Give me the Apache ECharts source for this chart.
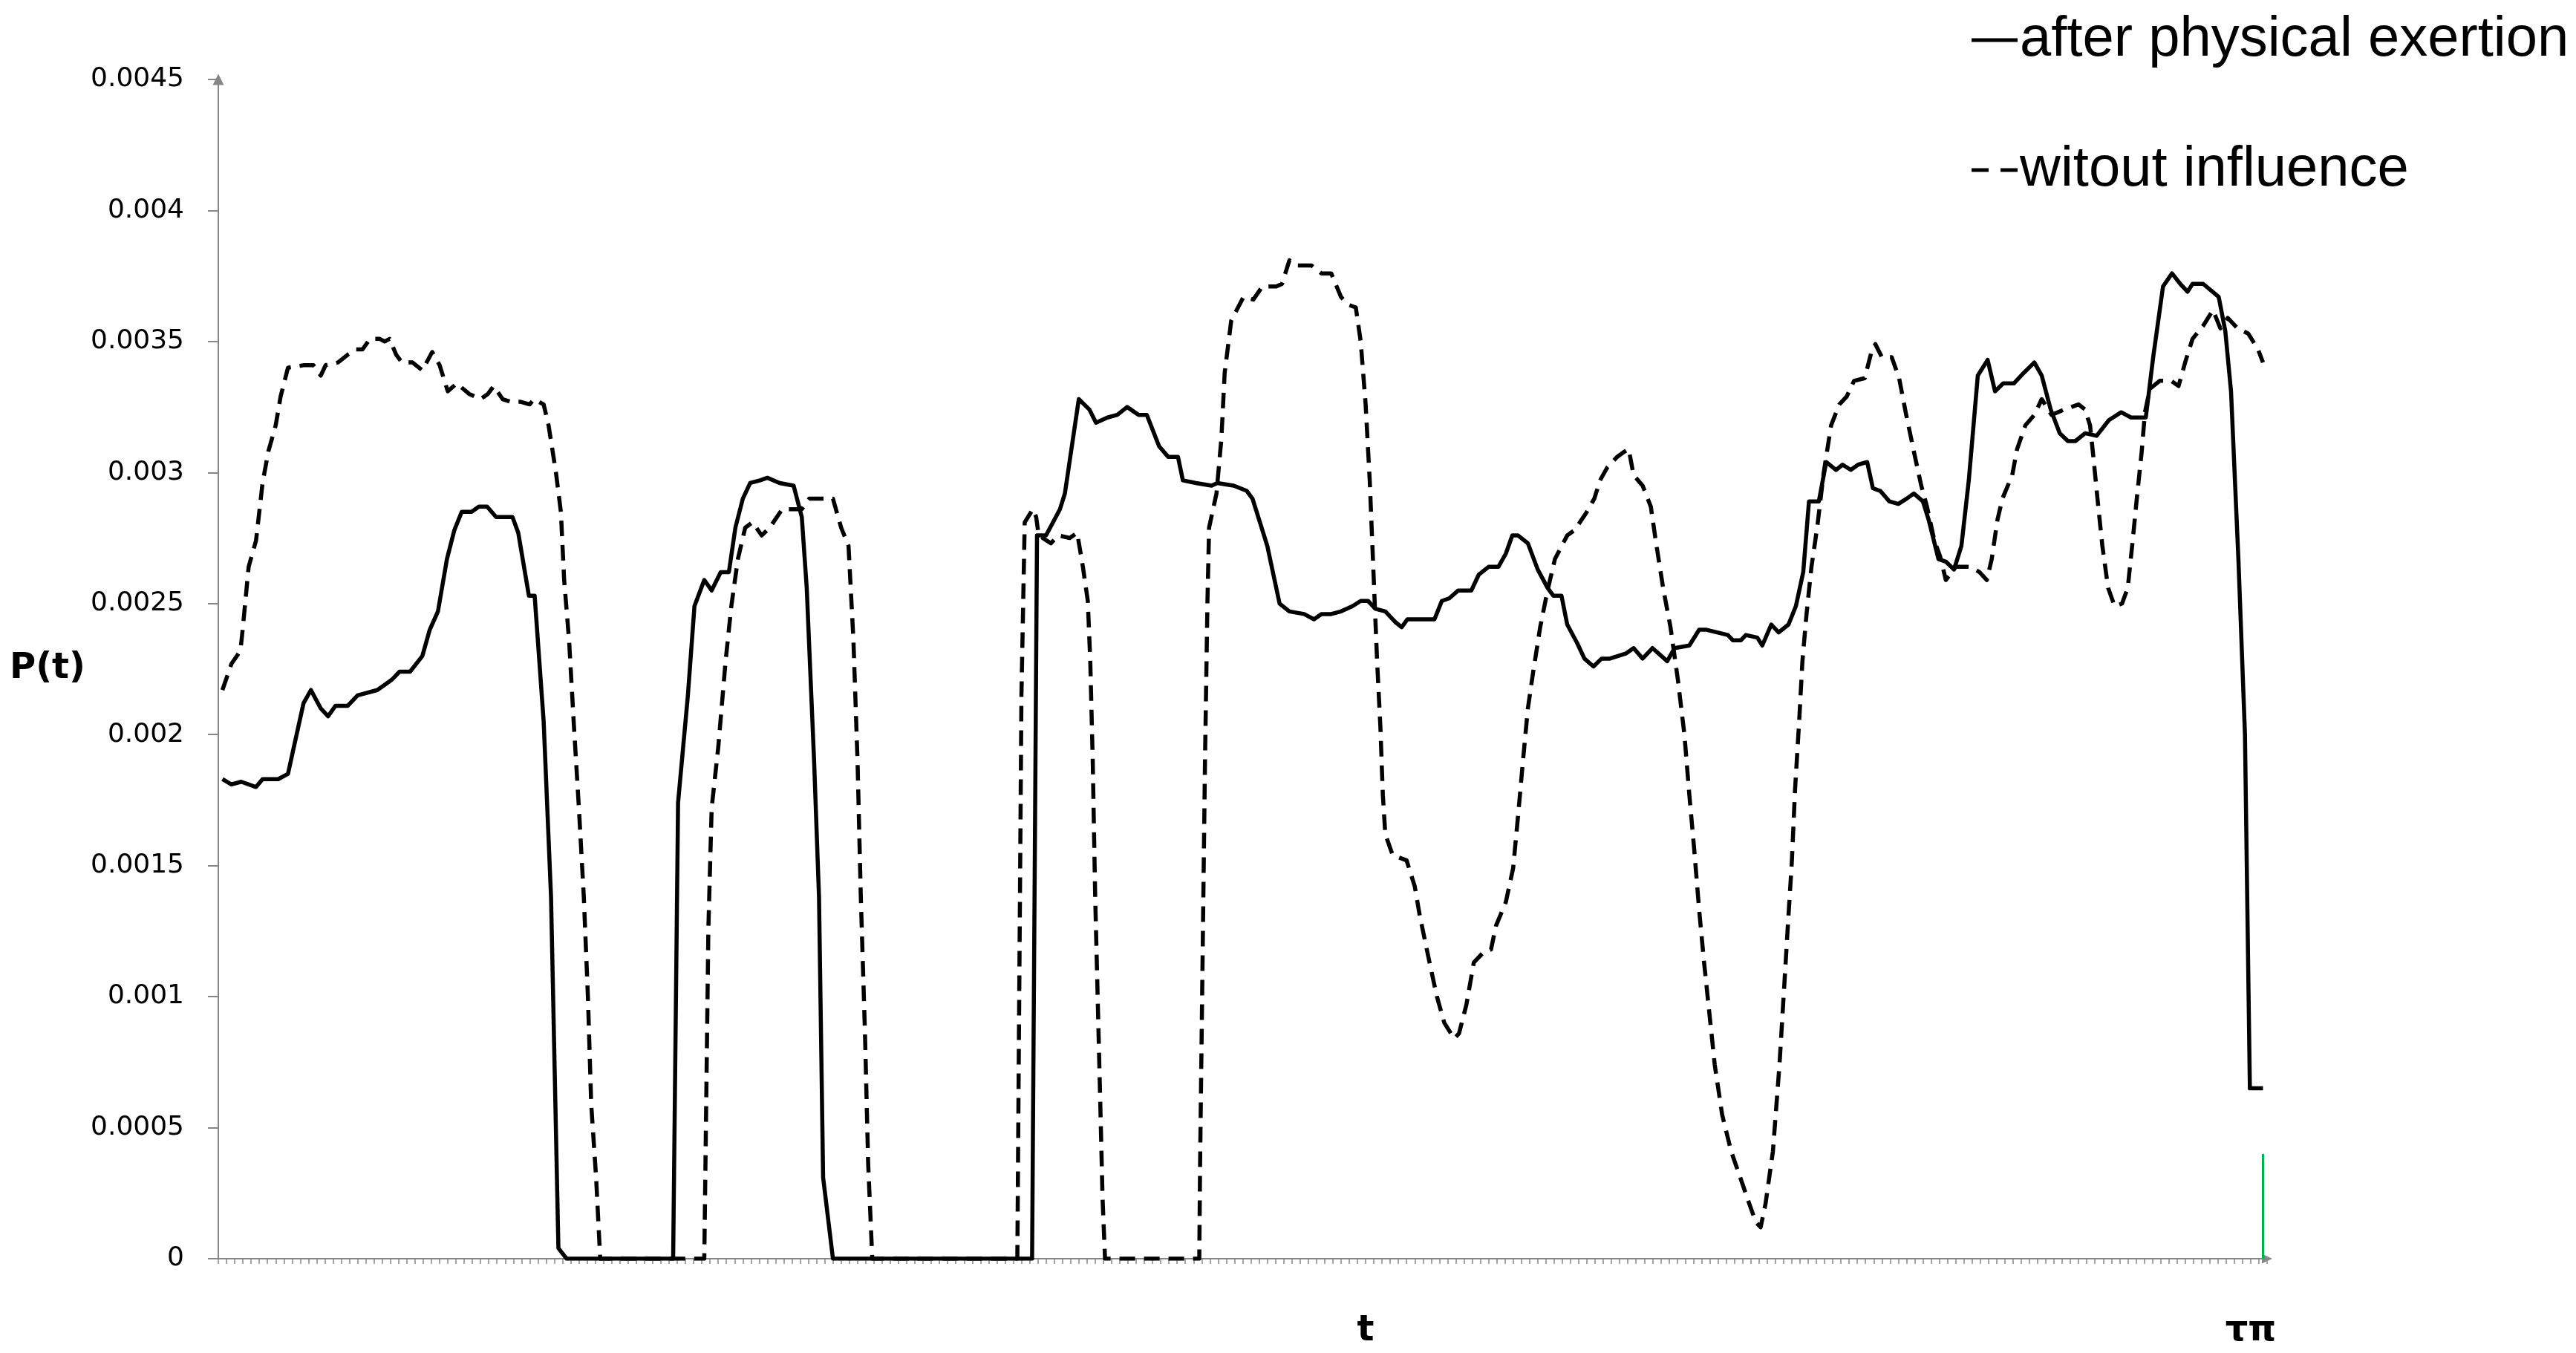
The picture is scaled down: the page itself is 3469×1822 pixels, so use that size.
<!DOCTYPE html>
<html>
<head>
<meta charset="utf-8">
<style>
  html, body { margin: 0; padding: 0; background: #ffffff; }
  #chart { width: 3469px; height: 1822px; }
</style>
<script src="https://cdn.jsdelivr.net/npm/echarts@6/dist/echarts.min.js"></script>
</head>
<body>
<div id="chart"></div>
<script>
// ---- data (sample index along t, value of P(t)) ----
const exertionIdx = [0,1.1,2.3,4.1,4.9,6.8,8.0,8.7,9.9,10.8,12.0,12.9,13.8,15.3,16.5,18.9,19.8,20.7,21.6,22.9,24.4,25.3,26.3,27.4,28.3,29.2,30.4,31.3,32.3,33.4,35.4,36.1,37.4,38.1,39.2,40.1,41.0,42.0,55.0,55.6,56.8,57.6,58.8,59.7,60.8,61.8,62.6,63.5,64.4,65.6,66.5,68.0,69.7,70.7,71.3,72.2,72.8,73.3,74.5,98.8,99.4,100.5,102.2,102.8,104.5,105.8,106.6,108.0,109.2,110.4,111.8,112.8,114.3,115.4,116.6,117.2,118.8,120.7,121.4,123.4,125.0,125.7,127.5,129.0,130.2,132.0,133.2,134.1,135.3,136.5,137.9,138.9,139.8,140.7,141.9,143.1,143.9,144.6,146.1,147.9,148.8,149.7,150.8,152.4,153.3,154.5,155.7,156.6,157.4,158.1,159.3,160.5,161.7,162.4,163.4,164.1,165.3,166.2,167.3,168.3,169.3,171.3,172.2,173.3,174.5,176.3,177.2,179.0,180.2,181.1,183.7,184.3,185.3,185.9,187.3,187.9,189.0,189.9,191.1,192.0,192.9,193.6,194.8,195.7,196.9,197.7,198.7,199.6,200.7,201.4,202.3,203.4,204.5,205.5,206.4,207.5,208.2,209.4,210.3,211.3,212.2,213.1,214.2,215.4,216.3,217.3,218.6,219.8,221.1,222.0,223.1,224.2,225.2,226.1,227.3,228.7,230.2,231.7,232.9,234.7,235.6,236.8,237.9,238.9,239.8,240.4,241.7,243.6,244.4,245.1,246.0,246.8,247.4,249.0];
const exertionP = [18.3e-4,18.1e-4,18.2e-4,18.0e-4,18.3e-4,18.3e-4,18.5e-4,19.5e-4,21.2e-4,21.7e-4,
21.0e-4,20.7e-4,21.1e-4,21.1e-4,21.5e-4,21.7e-4,21.9e-4,22.1e-4,22.4e-4,22.4e-4,
23.0e-4,24.0e-4,24.7e-4,26.7e-4,27.8e-4,28.5e-4,28.5e-4,28.7e-4,28.7e-4,28.3e-4,
28.3e-4,27.7e-4,25.3e-4,25.3e-4,20.5e-4,13.8e-4,0.4e-4,0,0,17.4e-4,
21.5e-4,24.9e-4,25.9e-4,25.5e-4,26.2e-4,26.2e-4,27.9e-4,29.0e-4,29.6e-4,29.7e-4,
29.8e-4,29.6e-4,29.5e-4,28.3e-4,25.6e-4,19.0e-4,13.8e-4,3.1e-4,0,0,
27.6e-4,27.6e-4,28.6e-4,29.2e-4,32.8e-4,32.4e-4,31.9e-4,32.1e-4,32.2e-4,32.5e-4,
32.2e-4,32.2e-4,31.0e-4,30.6e-4,30.6e-4,29.7e-4,29.6e-4,29.5e-4,29.6e-4,29.5e-4,
29.3e-4,29.0e-4,27.2e-4,25.0e-4,24.7e-4,24.6e-4,24.4e-4,24.6e-4,24.6e-4,24.7e-4,
24.9e-4,25.1e-4,25.1e-4,24.8e-4,24.7e-4,24.3e-4,24.1e-4,24.4e-4,24.4e-4,24.4e-4,
25.1e-4,25.2e-4,25.5e-4,25.5e-4,26.1e-4,26.4e-4,26.4e-4,26.9e-4,27.6e-4,27.6e-4,
27.3e-4,26.3e-4,25.6e-4,25.3e-4,25.3e-4,24.2e-4,23.5e-4,22.9e-4,22.6e-4,22.9e-4,
22.9e-4,23.1e-4,23.3e-4,22.9e-4,23.3e-4,22.8e-4,23.3e-4,23.4e-4,24.0e-4,24.0e-4,
23.8e-4,23.6e-4,23.6e-4,23.8e-4,23.7e-4,23.4e-4,24.2e-4,23.9e-4,24.2e-4,24.9e-4,
26.2e-4,28.9e-4,28.9e-4,30.4e-4,30.1e-4,30.3e-4,30.1e-4,30.3e-4,30.4e-4,29.4e-4,
29.3e-4,28.9e-4,28.8e-4,29.0e-4,29.2e-4,28.9e-4,28.2e-4,26.7e-4,26.6e-4,26.3e-4,
27.2e-4,29.7e-4,33.7e-4,34.3e-4,33.1e-4,33.4e-4,33.4e-4,33.8e-4,34.2e-4,33.7e-4,
32.4e-4,31.5e-4,31.2e-4,31.2e-4,31.5e-4,31.4e-4,32.0e-4,32.3e-4,32.1e-4,32.1e-4,
34.4e-4,37.1e-4,37.6e-4,37.2e-4,36.9e-4,37.2e-4,37.2e-4,36.7e-4,35.4e-4,33.1e-4,
26.7e-4,20.0e-4,6.5e-4,6.5e-4];

const noInfluenceIdx = [0,1.1,2.2,2.5,3.2,4.1,4.9,5.6,6.5,7.1,
8.0,10.0,11.1,12.0,12.6,14.1,15.3,16.2,17.1,18.0,
19.2,19.8,20.4,21.2,21.9,23.2,24.4,25.6,26.5,27.5,
28.6,30.1,31.5,32.4,33.1,34.2,35.2,36.4,37.5,38.0,
39.2,39.8,40.7,41.3,41.7,42.3,42.9,43.5,44.1,44.6,
45.0,45.6,46.1,58.8,59.3,59.7,60.5,61.4,62.1,62.9,
63.8,64.7,65.8,66.8,68.3,70.7,71.6,74.5,75.5,76.4,
77.0,77.5,77.9,78.4,78.8,79.3,97.0,97.2,97.5,97.9,
98.9,99.3,99.6,101.1,102.0,103.4,104.3,105.0,105.6,105.9,
106.2,106.5,106.8,107.1,107.4,107.7,119.2,119.3,119.6,119.9,
120.2,120.4,121.3,121.9,122.3,123.1,124.6,125.8,126.9,128.6,
129.3,130.2,131.1,132.9,134.1,135.3,136.5,137.4,138.3,138.9,
139.5,140.0,140.3,140.6,140.9,141.3,141.6,141.9,142.8,144.5,
145.5,146.1,147.3,148.2,149.1,150.3,150.9,151.8,152.7,153.9,
154.8,155.4,156.6,157.5,158.1,158.7,159.3,159.9,160.8,161.7,
162.6,164.1,165.0,166.5,167.4,168.1,169.0,170.2,171.1,171.6,
172.2,173.3,174.3,174.9,175.8,176.7,177.6,178.4,179.0,179.6,
180.2,180.8,181.5,182.1,183.0,184.1,185.1,186.2,187.1,187.7,
188.3,189.2,190.0,190.6,191.0,191.5,191.9,192.4,192.8,193.3,
193.9,194.6,195.4,196.3,197.3,198.2,199.1,200.4,201.3,201.7,
202.5,203.7,204.6,205.4,206.4,207.3,208.0,208.9,209.6,210.3,
211.5,213.3,214.4,215.3,215.9,216.6,217.2,218.4,219.0,220.0,
221.1,222.0,223.2,224.7,226.5,227.3,227.9,228.3,228.9,229.4,
230.1,230.9,231.8,232.5,233.1,233.6,234.2,234.6,235.2,236.4,
237.8,238.7,239.5,240.4,241.7,242.9,243.8,244.7,245.9,247.2,
248.4,249.0];
const noInfluenceP = [21.7e-4,22.7e-4,23.2e-4,24.1e-4,26.4e-4,27.4e-4,29.6e-4,30.8e-4,31.8e-4,32.9e-4,
34.0e-4,34.1e-4,34.1e-4,33.7e-4,34.1e-4,34.2e-4,34.5e-4,34.7e-4,34.7e-4,35.1e-4,
35.1e-4,35.0e-4,35.1e-4,34.5e-4,34.2e-4,34.2e-4,33.9e-4,34.6e-4,34.1e-4,33.1e-4,
33.4e-4,33.0e-4,32.8e-4,33.0e-4,33.3e-4,32.8e-4,32.7e-4,32.7e-4,32.6e-4,32.8e-4,
32.6e-4,31.8e-4,30.0e-4,28.5e-4,25.9e-4,23.6e-4,20.3e-4,17.2e-4,13.8e-4,10.0e-4,
5.9e-4,3.1e-4,0,0,12.6e-4,17.2e-4,19.5e-4,22.8e-4,24.9e-4,26.7e-4,
27.9e-4,28.1e-4,27.6e-4,27.9e-4,28.6e-4,28.6e-4,29.0e-4,29.0e-4,27.9e-4,27.2e-4,
23.6e-4,19.0e-4,13.8e-4,8.7e-4,3.6e-4,0,0,8.7e-4,21.5e-4,28.1e-4,
28.6e-4,28.3e-4,27.6e-4,27.3e-4,27.6e-4,27.5e-4,27.7e-4,26.4e-4,25.1e-4,22.8e-4,
19.0e-4,13.8e-4,10.0e-4,6.2e-4,2.3e-4,0,0,3.6e-4,11.3e-4,19.0e-4,
25.1e-4,27.9e-4,29.2e-4,31.3e-4,33.8e-4,35.8e-4,36.7e-4,36.6e-4,37.1e-4,37.1e-4,
37.2e-4,38.1e-4,37.9e-4,37.9e-4,37.6e-4,37.6e-4,36.7e-4,36.4e-4,36.3e-4,35.0e-4,
32.6e-4,29.7e-4,27.4e-4,25.1e-4,22.8e-4,20.3e-4,17.7e-4,16.2e-4,15.4e-4,15.2e-4,
14.2e-4,13.1e-4,11.3e-4,10.0e-4,9.0e-4,8.4e-4,8.6e-4,9.7e-4,11.3e-4,11.7e-4,
11.8e-4,12.7e-4,13.6e-4,14.9e-4,16.9e-4,19.0e-4,21.0e-4,22.3e-4,24.1e-4,25.5e-4,
26.7e-4,27.6e-4,27.8e-4,28.5e-4,29.0e-4,29.7e-4,30.2e-4,30.6e-4,30.8e-4,30.9e-4,
29.9e-4,29.5e-4,28.7e-4,27.4e-4,25.6e-4,24.1e-4,22.1e-4,20.0e-4,17.7e-4,15.6e-4,
13.3e-4,11.3e-4,9.2e-4,7.4e-4,5.5e-4,4.1e-4,3.2e-4,2.2e-4,1.4e-4,1.2e-4,
2.1e-4,4.1e-4,7.4e-4,10.5e-4,12.6e-4,15.1e-4,17.9e-4,20.5e-4,22.8e-4,24.6e-4,
26.4e-4,27.9e-4,30.0e-4,31.8e-4,32.6e-4,32.9e-4,33.5e-4,33.6e-4,34.7e-4,34.9e-4,
34.4e-4,34.4e-4,33.6e-4,32.3e-4,30.8e-4,29.5e-4,28.7e-4,27.4e-4,26.8e-4,25.9e-4,
26.4e-4,26.4e-4,26.2e-4,25.9e-4,26.7e-4,28.2e-4,29.0e-4,29.9e-4,30.9e-4,31.8e-4,
32.2e-4,32.8e-4,32.2e-4,32.4e-4,32.6e-4,32.4e-4,31.8e-4,30.6e-4,28.7e-4,27.2e-4,
25.6e-4,24.9e-4,25.0e-4,25.6e-4,27.4e-4,29.0e-4,30.8e-4,32.3e-4,33.2e-4,33.5e-4,
33.5e-4,33.3e-4,34.2e-4,35.1e-4,35.6e-4,36.2e-4,35.5e-4,35.9e-4,35.5e-4,35.3e-4,
34.7e-4,34.2e-4];

const seriesNames = ['after physical exertion', 'witout influence'];
const sampleCount = 250;                 // number of t samples (one tick per sample)
const xTickLabelPos = [140, 248];        // tick positions carrying a label
const xTickLabelText = ['t', 'τπ'];
const yTicks = { min: 0, max: 0.0045, step: 0.0005 };
const tauMarker = { sample: 249, top: 0.0004 }; // green τπ marker at the last sample

// each sample sits in the middle of its tick interval
const toPairs = (idx, vals) => idx.map((s, k) => [s + 0.5, vals[k]]);

const axisGrey = '#868686';
const chart = echarts.init(document.getElementById('chart'), null, { renderer: 'canvas' });

const option = {
  animation: false,
  backgroundColor: '#ffffff',
  grid: { left: 294, right: 416, top: 107, bottom: 127, containLabel: false },
  legend: {
    orient: 'vertical',
    left: 2650,
    top: 11,
    itemWidth: 62,
    itemHeight: 5,
    itemGap: 99,
    selectedMode: false,
    symbolKeepAspect: false,
    textStyle: { fontSize: 76, lineHeight: 76, fontFamily: 'Liberation Sans', color: '#000000', padding: [0, 0, 0, -2] },
    data: [
      { name: seriesNames[0], icon: 'path://M0,0H62V5H0Z' },
      { name: seriesNames[1], icon: 'path://M0,0H23V5H0Z M39,0H62V5H39Z' }
    ]
  },
  xAxis: {
    type: 'value',
    min: 0,
    max: sampleCount,
    interval: 1,
    splitLine: { show: false },
    axisLine: { show: true, onZero: false, symbol: ['none', 'triangle'], symbolSize: [13, 14],
                lineStyle: { color: axisGrey, width: 2 } },
    axisTick: { show: true, length: 7, lineStyle: { color: axisGrey, width: 1.5 } },
    axisLabel: {
      show: true, margin: 74, fontSize: 48, fontWeight: 'bold', fontFamily: 'DejaVu Sans', color: '#000000',
      formatter: function (v) { const k = xTickLabelPos.indexOf(Math.round(v)); return (k >= 0 && Math.abs(v - Math.round(v)) < 1e-6) ? xTickLabelText[k] : ''; }
    }
  },
  yAxis: {
    type: 'value',
    min: yTicks.min,
    max: yTicks.max,
    interval: yTicks.step,
    name: 'P(t)',
    nameLocation: 'middle',
    nameRotate: 0,
    nameGap: 179,
    nameTextStyle: { fontSize: 48, fontWeight: 'bold', fontFamily: 'DejaVu Sans', color: '#000000' },
    splitLine: { show: false },
    axisLine: { show: true, symbol: ['none', 'triangle'], symbolSize: [15, 15],
                lineStyle: { color: axisGrey, width: 2 } },
    axisTick: { show: true, length: 14, lineStyle: { color: axisGrey, width: 2 } },
    axisLabel: { margin: 46, fontSize: 36, fontFamily: 'DejaVu Sans', color: '#000000' }
  },
  series: [
    {
      name: seriesNames[0],
      type: 'line',
      data: toPairs(exertionIdx, exertionP),
      symbol: 'none',
      showSymbol: false,
      itemStyle: { color: '#000000' },
      lineStyle: { color: '#000000', width: 5.5, type: 'solid', join: 'round' },
      z: 3,
      markLine: {
        silent: true,
        symbol: ['none', 'none'],
        label: { show: false },
        lineStyle: { color: '#00b050', width: 3, type: 'solid' },
        data: [[ { coord: [tauMarker.sample + 0.5, 0] }, { coord: [tauMarker.sample + 0.5, tauMarker.top] } ]]
      }
    },
    {
      name: seriesNames[1],
      type: 'line',
      data: toPairs(noInfluenceIdx, noInfluenceP),
      symbol: 'none',
      showSymbol: false,
      itemStyle: { color: '#000000' },
      lineStyle: { color: '#000000', width: 5.5, type: [21, 12], join: 'round' },
      z: 2
    }
  ]
};
chart.setOption(option);
</script>
</body>
</html>
